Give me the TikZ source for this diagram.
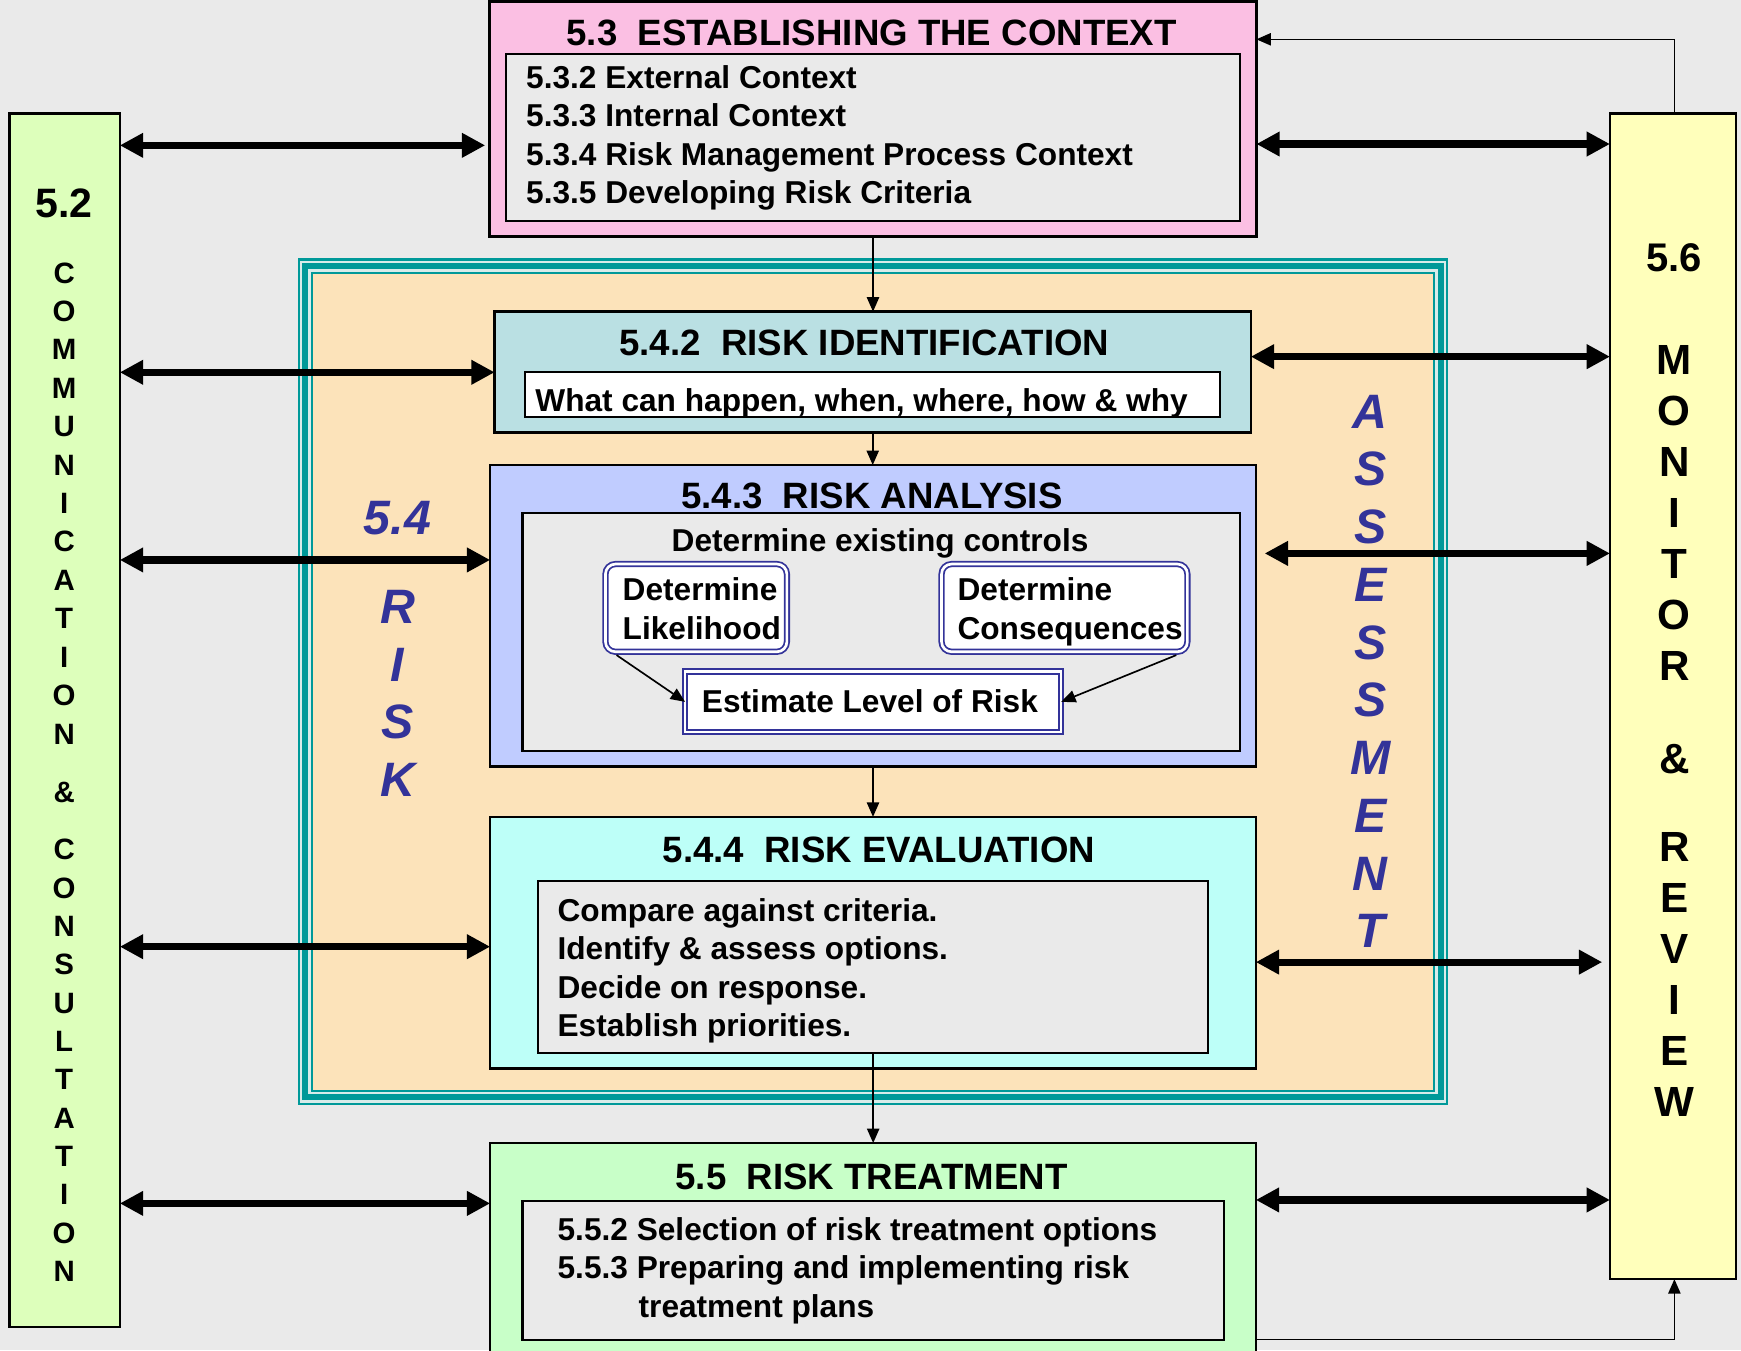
\documentclass[tikz,border=0pt]{standalone}
\usepackage{fontspec}
\setmainfont{Liberation Sans}
\usetikzlibrary{arrows.meta}
\definecolor{bgc}{HTML}{EAEAEA}
\definecolor{cleft}{HTML}{DDFFBB}
\definecolor{cright}{HTML}{FFFFBB}
\definecolor{cpink}{HTML}{FBBFE3}
\definecolor{cpeach}{HTML}{FCE3BA}
\definecolor{cteal}{HTML}{009999}
\definecolor{cteallight}{HTML}{D8ECEA}
\definecolor{cri}{HTML}{BAE0E3}
\definecolor{cra}{HTML}{C0CCFF}
\definecolor{cre}{HTML}{BDFFF8}
\definecolor{crt}{HTML}{C8FFC8}
\definecolor{cnavy}{HTML}{333399}
\newcommand\FTitle{\fontsize{33pt}{33pt}\selectfont\bfseries}
\newcommand\FBody{\fontsize{28.5pt}{28.5pt}\selectfont\bfseries}
\newcommand\FLeftNum{\fontsize{37pt}{37pt}\selectfont\bfseries}
\newcommand\FLeft{\fontsize{26.5pt}{26.5pt}\selectfont\bfseries}
\newcommand\FRightNum{\fontsize{36pt}{36pt}\selectfont\bfseries}
\newcommand\FRight{\fontsize{38pt}{38pt}\selectfont\bfseries}
\newcommand\FBlue{\fontsize{43.5pt}{43.5pt}\selectfont\bfseries\itshape}
\begin{document}
\begin{tikzpicture}[x=1pt,y=-1pt,
  panel/.style={draw=black, line width=2.3pt, anchor=north west, inner sep=0pt, outer sep=0pt},
  inpanel/.style={draw=black, line width=2pt, fill=bgc, anchor=north west, inner sep=0pt, outer sep=0pt},
  dbl/.style={draw=cnavy, line width=1.6pt, double=white, double distance=2.4pt, fill=white, anchor=north west, inner sep=0pt, outer sep=0pt},
  ttl/.style={font=\FTitle, inner sep=0pt, anchor=base},
  txt/.style={font=\FBody, inner sep=0pt, anchor=base west},
  ctxt/.style={font=\FBody, inner sep=0pt, anchor=base},
  lnum/.style={font=\FLeftNum, inner sep=0pt, text height=26.5pt, text depth=0pt},
  llet/.style={font=\FLeft, inner sep=0pt, text height=19pt, text depth=0pt},
  rnum/.style={font=\FRightNum, inner sep=0pt, text height=25.8pt, text depth=0pt},
  rlet/.style={font=\FRight, inner sep=0pt, text height=27.2pt, text depth=0pt},
  blet/.style={font=\FBlue, text=cnavy, inner sep=0pt, text height=31.1pt, text depth=0pt},
  conn/.style={line width=1.5pt, -{Triangle[length=13pt,width=11pt]}},
  bigarr/.style={line width=6.5pt, {Triangle[length=21pt,width=21pt]}-{Triangle[length=21pt,width=21pt]}}
]
\useasboundingbox (0,0) rectangle (1568,1216);
\clip (0,0) rectangle (1568,1216);
\fill[bgc] (0,0) rectangle (1568,1216);

% side columns
\node[panel, fill=cleft, minimum width=99.3pt, minimum height=1093pt] (left) at (8.6,102) {};
\node[panel, fill=cright, minimum width=113.4pt, minimum height=1050pt] (right) at (1450,102) {};

% 5.3 context
\node[panel, fill=cpink, minimum width=690.5pt, minimum height=211.7pt] (ctx) at (441,1.5) {};
\node[inpanel, minimum width=661.5pt, minimum height=150.1pt] (ctxin) at (455.5,48.6) {};

% teal frame
\node[anchor=north west, inner sep=0pt, outer sep=0pt, fill=cteallight, minimum width=1036.5pt, minimum height=762.7pt] (frame) at (268,232.7) {};
\draw[cteal, line width=2pt] ([shift={(1,1)}]frame.north west) rectangle ([shift={(-1,-1)}]frame.south east);
\draw[cteal, line width=5.4pt] ([shift={(7.1,7.1)}]frame.north west) rectangle ([shift={(-7.1,-7.1)}]frame.south east);
\fill[cpeach] ([shift={(14,14)}]frame.north west) rectangle ([shift={(-14,-14)}]frame.south east);
\draw[cteal, line width=2.1pt] ([shift={(12.95,12.95)}]frame.north west) rectangle ([shift={(-12.95,-12.95)}]frame.south east);

% 5.4.2
\node[panel, fill=cri, minimum width=681pt, minimum height=109pt] (ri) at (445.5,280.7) {};
\node[inpanel, fill=white, minimum width=626pt, minimum height=40.6pt] (riin) at (472.8,335.3) {};
% 5.4.3
\node[panel, fill=cra, minimum width=689.5pt, minimum height=271.5pt] (ra) at (441.5,418.8) {};
\node[inpanel, minimum width=646pt, minimum height=214.4pt] (rain) at (470.5,461.8) {};
\node[dbl, rounded corners=9pt, minimum width=163.4pt, minimum height=79pt] (lik) at (545.3,508) {};
\node[dbl, rounded corners=9pt, minimum width=221.4pt, minimum height=79pt] (con) at (848,508) {};
\node[dbl, minimum width=338.7pt, minimum height=54.6pt] (est) at (617,604.8) {};
% 5.4.4
\node[panel, fill=cre, minimum width=689.5pt, minimum height=226.5pt] (re) at (441.5,735.7) {};
\node[inpanel, minimum width=603.2pt, minimum height=154.8pt] (rein) at (484.8,793.2) {};
% 5.5
\node[panel, fill=crt, minimum width=689.5pt, minimum height=230pt] (rt) at (441.5,1029.5) {};
\node[inpanel, minimum width=631.8pt, minimum height=125.4pt] (rtin) at (470.5,1081.6) {};

% thin connectors
\draw[conn] (ctx.south) -- (ctx.south |- ri.north);
\draw[conn] (ri.south) -- (ri.south |- ra.north);
\draw[conn] (ra.south) -- (ra.south |- re.north);
\draw[conn] (rein.south) -- (rein.south |- rt.north);
\draw[conn] ([shift={(10,3)}]lik.south west) -- (est.west);
\draw[conn] ([shift={(-10,3)}]con.south east) -- (est.east);
\draw[conn, line width=1.3pt] (right.north -| 1508,0) |- (ctx.east |- 0,35.4);
\draw[conn] (rt.east |- 0,1206.4) -| (right.south -| 1508,0);

% thick double arrows, left
\draw[bigarr, shorten >=4pt] (left.east |- 0,130.9) -- (ctx.west |- 0,130.9);
\draw[bigarr] (left.east |- 0,335.3) -- (ri.west |- 0,335.3);
\draw[bigarr] (left.east |- 0,504.3) -- (ra.west |- 0,504.3);
\draw[bigarr] (left.east |- 0,852.6) -- (re.west |- 0,852.6);
\draw[bigarr] (left.east |- 0,1083.8) -- (rt.west |- 0,1083.8);
% thick double arrows, right
\draw[bigarr] (ctx.east |- 0,129.7) -- (right.west |- 0,129.7);
\draw[bigarr] (ri.east |- 0,321.2) -- (right.west |- 0,321.2);
\draw[bigarr, shorten <=8pt] (ra.east |- 0,498.4) -- (right.west |- 0,498.4);
\draw[bigarr, shorten >=7pt] (re.east |- 0,866.5) -- (right.west |- 0,866.5);
\draw[bigarr] (rt.east |- 0,1080.7) -- (right.west |- 0,1080.7);

% texts
\node[ttl] (t53) at (785,41.4) {5.3\ \ ESTABLISHING THE CONTEXT};
\node[txt] (c1) at (473.7,79.5) {5.3.2 External Context};
\node[txt] (c2) at (473.7,114) {5.3.3 Internal Context};
\node[txt] (c3) at (473.7,149) {5.3.4 Risk Management Process Context};
\node[txt] (c4) at (473.7,183.7) {5.3.5 Developing Risk Criteria};

\node[ttl] (t542) at (778.4,320.4) {5.4.2\ \ RISK IDENTIFICATION};
\node[txt] (w1) at (482,370.5) {What can happen, when, where, how \& why};

\node[ttl] (t543) at (785.2,457.8) {5.4.3\ \ RISK ANALYSIS};
\node[ctxt] (dec) at (792.6,497) {Determine existing controls};
\node[txt] (l1) at (560.6,540.4) {Determine};
\node[txt] (l2) at (560.6,575.6) {Likelihood};
\node[txt] (k1) at (862.2,540.4) {Determine};
\node[txt] (k2) at (862.2,575.6) {Consequences};
\node[ctxt] (elr) at (783.5,641.6) {Estimate Level of Risk};

\node[ttl] (t544) at (791.5,776.7) {5.4.4\ \ RISK EVALUATION};
\node[txt] (e1) at (502,829.5) {Compare against criteria.};
\node[txt] (e2) at (502,864.3) {Identify \& assess options.};
\node[txt] (e3) at (502,899) {Decide on response.};
\node[txt] (e4) at (502,933.8) {Establish priorities.};

\node[ttl] (t55) at (785,1071.2) {5.5\ \ RISK TREATMENT};
\node[txt] (s1) at (502,1117) {5.5.2 Selection of risk treatment options};
\node[txt] (s2) at (502,1151.8) {5.5.3 Preparing and implementing risk};
\node[txt] (s3) at (575,1186.5) {treatment plans};

% left column
\node[lnum] (n52) at (57.8,183) {5.2};
\foreach \c [count=\i from 0] in {C,O,M,M,U,N,I,C,A,T,I,O,N}
  \node[llet] (la\i) at (57.8,245.4+34.6*\i) {\c};
\node[llet] (lamp) at (57.8,713) {\&};
\foreach \c [count=\i from 0] in {C,O,N,S,U,L,T,A,T,I,O,N}
  \node[llet] (lb\i) at (57.8,765+34.5*\i) {\c};

% right column
\node[rnum] (n56) at (1508,232) {5.6};
\foreach \c [count=\i from 0] in {M,O,N,I,T,O,R}
  \node[rlet] (ra\i) at (1508,323.5+46*\i) {\c};
\node[rlet] (ramp) at (1508,683) {\&};
\foreach \c [count=\i from 0] in {R,E,V,I,E,W}
  \node[rlet] (rb\i) at (1508,762+46*\i) {\c};

% blue labels
\node[blet] (n54) at (358,465.7) {5.4};
\foreach \c [count=\i from 0] in {R,I,S,K}
  \node[blet] (rk\i) at (358,546+52*\i) {\c};
\foreach \c [count=\i from 0] in {A,S,S,E,S,S,M,E,N,T}
  \node[blet] (as\i) at (1234,370+52*\i) {\c};
\end{tikzpicture}
\end{document}
